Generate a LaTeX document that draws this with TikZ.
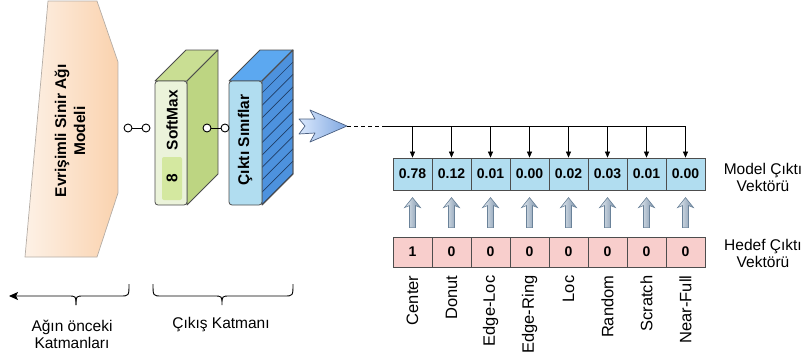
\documentclass[tikz,border=0pt]{standalone}
\usepackage{fontspec}
\setmainfont{Liberation Sans}
\usetikzlibrary{arrows.meta}

\definecolor{peachL}{HTML}{FDF1E6}
\definecolor{peachR}{HTML}{FAD2AE}
\definecolor{peachBd}{HTML}{B5ADA6}
\definecolor{smFront}{HTML}{EBF3DA}
\definecolor{smSide}{HTML}{BDD582}
\definecolor{smTop}{HTML}{C9DE93}
\definecolor{smInner}{HTML}{D4E8A0}
\definecolor{clsFront}{HTML}{B1DDF0}
\definecolor{clsTop}{HTML}{5CA8F0}
\definecolor{clsSide}{HTML}{4D92DE}
\definecolor{hatch}{HTML}{1F3D66}
\definecolor{edge}{HTML}{4D4D4D}
\definecolor{outBlue}{HTML}{B1DDF0}
\definecolor{tgtPink}{HTML}{F8CECC}
\definecolor{sigL}{HTML}{DAE8FC}
\definecolor{sigR}{HTML}{7EA6E0}
\definecolor{sigBd}{HTML}{4B5F80}
\definecolor{upL}{HTML}{E8EEF4}
\definecolor{upR}{HTML}{7890A8}
\definecolor{upBd}{HTML}{6A8299}

\tikzset{
  boldtxt/.style={font=\fontsize{15.5}{19}\selectfont\bfseries, rotate=90, align=center, inner sep=0},
  cell/.style={draw=edge, minimum width=39pt, minimum height=32pt, inner sep=0,
    font=\fontsize{14}{15}\selectfont\bfseries, line width=0.8pt},
  outcell/.style={cell, fill=outBlue},
  tgtcell/.style={cell, fill=tgtPink, minimum height=30pt},
  joint/.style={circle, draw=black, fill=white, minimum size=8pt, inner sep=0, line width=0.9pt},
  classlbl/.style={rotate=90, anchor=east, inner sep=0, font=\fontsize{16.5}{18}\selectfont},
  sidelbl/.style={align=center, font=\fontsize{15.5}{17}\selectfont},
  feed/.style={-{Triangle[length=6pt,width=5pt]}, line width=0.6pt},
  upflow/.style={left color=upL, right color=upR, draw=upBd, line width=0.6pt},
  brace/.style={line width=0.9pt},
  faceedge/.style={draw=edge, line width=0.8pt, line join=round},
}

\begin{document}
\begin{tikzpicture}[x=1pt,y=-1pt]
\useasboundingbox (0,0) rectangle (803,356);

% convolutional network block
\draw[left color=peachL, right color=peachR, draw=peachBd, line width=0.7pt]
  (48,1) -- (97,1) -- (118,62) -- (118,193) -- (97,257) -- (25,257) -- cycle;
\node[boldtxt] (cnn) at (70,131) {Evrişimli Sinir Ağı\\Modeli};

% SoftMax layer (3D box)
\draw[faceedge, fill=smTop] (155,81) -- (186,50) -- (218,50) -- (187,81) -- cycle;
\draw[faceedge, fill=smSide] (187,81) -- (218,50) -- (218,174) -- (187,205) -- cycle;
\draw[faceedge, fill=smFront, rounded corners=3pt] (155,81) rectangle (187,205);
\fill[smInner, rounded corners=2pt] (162,157) rectangle (182,200);
\node[boldtxt] (smx) at (172,120) {SoftMax};
\node[boldtxt] (eight) at (172,178) {8};

% output classes layer (3D box with hatched side)
\draw[faceedge, fill=clsTop] (229,81) -- (260,50) -- (293,50) -- (262,81) -- cycle;
\draw[faceedge, fill=clsSide] (262,81) -- (293,50) -- (293,174) -- (262,205) -- cycle;
\begin{scope}
  \clip (262,81) -- (293,50) -- (293,174) -- (262,205) -- cycle;
  \foreach \k in {0,...,12} {
    \draw[hatch, line width=0.7pt] (262,{93+12.4*\k}) -- (293,{62+12.4*\k});
  }
\end{scope}
\draw[faceedge] (262,81) -- (293,50) -- (293,174) -- (262,205);
\draw[faceedge, fill=clsFront, rounded corners=3pt] (229,81) rectangle (262,205);
\node[boldtxt] (cls) at (245,140) {Çıktı Sınıflar};

% joints between layers
\node[joint] (j1) at (128,128) {};
\node[joint] (j2) at (146,128) {};
\draw[line width=0.9pt] (j1) -- (j2);
\node[joint] (j3) at (207,128) {};
\node[joint] (j4) at (225,128) {};
\draw[line width=0.9pt] (j3) -- (j4);

% signal arrow
\draw[left color=sigL, right color=sigR, draw=sigBd, line width=0.7pt, line join=round]
  (299,119) -- (315,119) -- (310,110) -- (347,126) -- (310,142) -- (315,133)
  -- (299,134) -- (305,126) -- cycle;
\coordinate (tip) at (347,126);
\coordinate (busL) at (384,126);
\coordinate (busR) at (685.5,126);

% model output and target vectors
\foreach \v [count=\i] in {0.78,0.12,0.01,0.00,0.02,0.03,0.01,0.00} {
  \node[outcell] (o\i) at ({393+39*(\i-0.5)},174) {\v};
}
\foreach \v [count=\i] in {1,0,0,0,0,0,0,0} {
  \node[tgtcell] (t\i) at ({393+39*(\i-0.5)},252) {\v};
}

% distribution bus
\draw[dash pattern=on 3.5pt off 3.5pt, line width=0.7pt] (tip) -- (busL);
\draw[line width=0.7pt] (busL) -- (busR);
\foreach \i in {1,...,8} {
  \draw[feed] (o\i.north |- busL) -- (o\i.north);
}

% comparison arrows
\foreach \i in {1,...,8} {
  \begin{scope}[shift={(t\i.north)}]
    \draw[upflow] (0,-39) -- (8,-29) -- (3,-31) -- (3,-9) -- (-3,-9) -- (-3,-31) -- (-8,-29) -- cycle;
  \end{scope}
}

% class names
\foreach \n [count=\i] in {Center,Donut,Edge-Loc,Edge-Ring,Loc,Random,Scratch,Near-Full} {
  \node[classlbl] (c\i) at ([yshift=-8pt]t\i.south) {\n};
}

% row captions
\node[sidelbl] (mlbl) at (763,177) {Model Çıktı\\Vektörü};
\node[sidelbl] (hlbl) at (763,253) {Hedef Çıktı\\Vektörü};

% braces
\draw[brace] (129,284) .. controls (129,296) .. (120,296) -- (84,296)
  .. controls (76,296) .. (76,305);
\draw[brace, -{Stealth[length=9pt,width=8pt,inset=2pt]}] (76,305) .. controls (76,296) .. (68,296) -- (9,296);
\draw[brace] (153,284) .. controls (153,296) .. (162,296) -- (214,296)
  .. controls (222,296) .. (222,305) .. controls (222,296) .. (230,296) -- (284,296)
  .. controls (293,296) .. (293,284);
\node[sidelbl] (prev) at (72,334) {Ağın önceki\\Katmanları};
\node[sidelbl] (outl) at (221,325) {Çıkış Katmanı};
\end{tikzpicture}
\end{document}
